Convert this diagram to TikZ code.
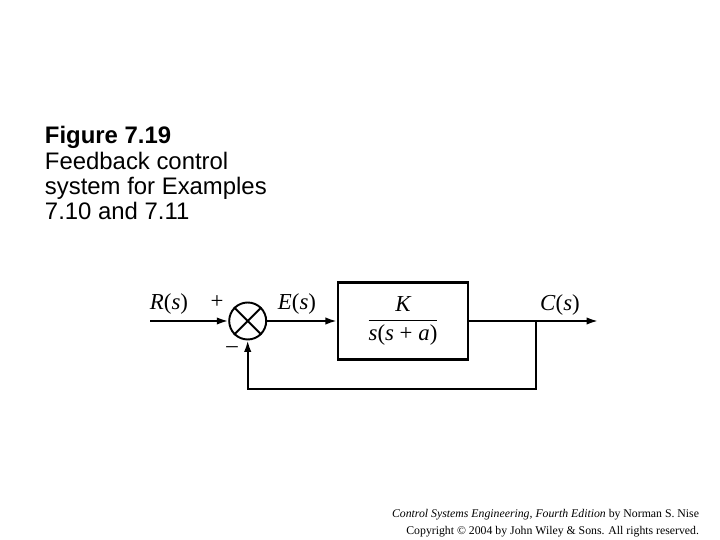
\documentclass[tikz,border=0pt]{standalone}
\usepackage{amsmath}
\usepackage{fontspec}
\setmainfont{Liberation Serif}
\newfontfamily\arialfont{Liberation Sans}
\usetikzlibrary{arrows.meta}

\begin{document}
\begin{tikzpicture}[>={Latex[length=6.5pt,width=4.2pt]},line width=1.1pt]
            \useasboundingbox (0,0) rectangle (14.4,10.8);
            \node[anchor=north west,align=left,inner sep=0pt,font=\arialfont\fontsize{13.6}{14.4}\selectfont] (caption) at (0.88,8.29) {\textbf{Figure 7.19}\\Feedback control\\system for Examples\\7.10 and 7.11};
            \node[anchor=north east,align=right,inner sep=0pt,font=\fontsize{6.7}{9.6}\selectfont] (credit) at (14.0,0.63) {\textit{Control Systems Engineering, Fourth Edition} by Norman S. Nise\\Copyright \textcopyright{} 2004 by John Wiley \& Sons. All rights reserved.};
            \coordinate (in) at (3.0,4.38);
            \node[draw,circle,minimum size=0.74cm,inner sep=0pt] (sum) at (4.954,4.38) {};
            \draw (sum.north west) -- (sum.south east);
            \draw (sum.north east) -- (sum.south west);
            \node[draw,line width=1.3pt,minimum width=2.6cm,minimum height=1.54cm,font=\fontsize{13}{15}\selectfont] (plant) at (8.06,4.38) {$\dfrac{\textit{K}}{\text{\textit{s}(\textit{s} + \textit{a})}}$};
            \coordinate (branch) at (10.72,4.38);
            \coordinate (out) at (11.96,4.38);
            \coordinate (fb) at (10.72,3.02);
            \draw [->] (in) -- (sum);
            \draw [->] (sum) -- (plant);
            \draw [->] (plant) -- (out);
            \draw [->] (branch) -- (fb) -| (sum.south);
            \node[font=\fontsize{13}{15}\selectfont] (rlabel) at (3.38,4.72) {\textit{R}(\textit{s})};
            \node[font=\fontsize{13}{15}\selectfont] (plus) at (4.34,4.76) {+};
            \node[font=\fontsize{13}{15}\selectfont] (minus) at (4.64,3.8) {\textendash};
            \node[font=\fontsize{13}{15}\selectfont] (elabel) at (5.94,4.72) {\textit{E}(\textit{s})};
            \node[font=\fontsize{13}{15}\selectfont] (clabel) at (11.2,4.7) {\textit{C}(\textit{s})};
        \end{tikzpicture}
\end{document}
